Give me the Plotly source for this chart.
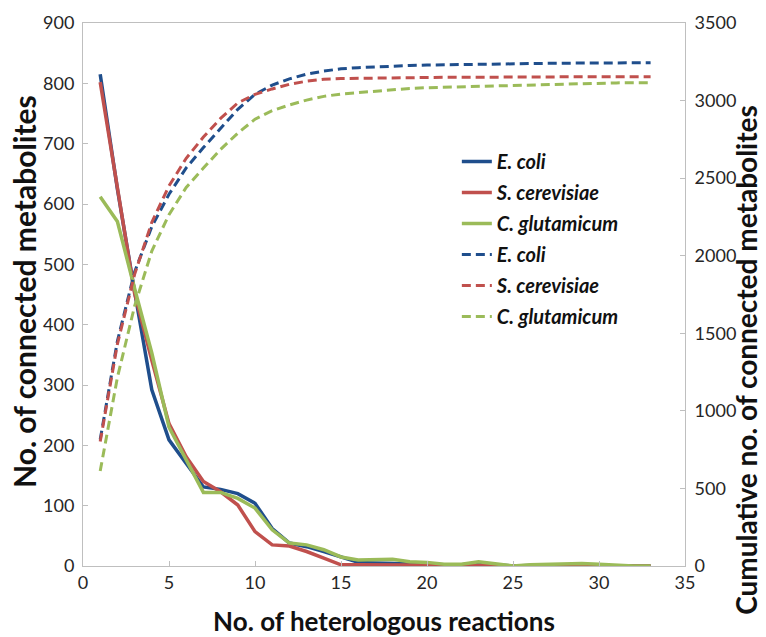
import plotly.graph_objects as go

x_vals = list(range(1, 34))

ecoli = [815, 625, 455, 292, 209, 170, 131, 127, 120, 104, 62, 38, 32, 24, 15, 6, 5, 4, 3, 3,
         2, 2, 4, 2, 0, 1, 1, 2, 1, 1, 0, 0, 0]
scer = [802, 630, 452, 341, 236, 181, 140, 123, 101, 57, 35, 33, 24, 13, 2, 2, 2, 2, 1, 1,
        1, 1, 2, 1, 0, 0, 1, 1, 1, 1, 0, 0, 0]
cglu = [612, 571, 460, 353, 230, 176, 122, 122, 112, 96, 60, 38, 35, 27, 15, 10, 10, 11, 7, 6,
        3, 3, 7, 3, 0, 2, 3, 4, 4, 3, 1, 0, 0]

ecoli_cum = [815, 1450, 1895, 2187, 2396, 2566, 2697, 2824, 2944, 3040, 3100, 3140, 3170, 3190,
             3205, 3212, 3218, 3222, 3226, 3229, 3231, 3233, 3236, 3238, 3238, 3239, 3240, 3241,
             3242, 3243, 3243, 3244, 3244]
scer_cum = [802, 1430, 1880, 2215, 2450, 2628, 2765, 2885, 2985, 3040, 3075, 3105, 3125, 3138,
            3142, 3144, 3146, 3147, 3148, 3149, 3150, 3150, 3151, 3152, 3152, 3152, 3153, 3153,
            3154, 3154, 3154, 3154, 3154]
cglu_cum = [612, 1215, 1675, 2030, 2265, 2440, 2565, 2685, 2790, 2880, 2935, 2972, 3003, 3027,
            3042, 3052, 3062, 3071, 3078, 3083, 3086, 3089, 3095, 3098, 3098, 3100, 3103, 3106,
            3110, 3113, 3114, 3115, 3115]

names = ["E. coli", "S. cerevisiae", "C. glutamicum"]
colors = ["#1F4E8C", "#C0504D", "#9BBB59"]

fig = go.Figure()
solid = [ecoli, scer, cglu]
cum = [ecoli_cum, scer_cum, cglu_cum]
for i in range(3):
    fig.add_trace(go.Scatter(x=x_vals, y=solid[i], mode="lines", name="<b><i>%s</i></b>" % names[i],
                             line=dict(color=colors[i], width=3.5), legendgroup="s%d" % i,
                             legendrank=i + 1))
for i in range(3):
    fig.add_trace(go.Scatter(x=x_vals, y=cum[i], mode="lines", name="<b><i>%s</i></b>" % names[i],
                             line=dict(color=colors[i], width=3, dash="9px,5px"), yaxis="y2",
                             legendgroup="c%d" % i, legendrank=i + 4))

axis_line = "#BFBFBF"
fam = "Lato, Open Sans, sans-serif"
tick_font = dict(family=fam, size=18, color="#262626")

fig.update_layout(
    width=758, height=629,
    margin=dict(l=75, r=81, t=15, b=71),
    paper_bgcolor="white", plot_bgcolor="white",
    showlegend=True,
    legend=dict(x=0.621, y=0.781, xanchor="left", yanchor="top",
                font=dict(family=fam, size=20, color="#111111"),
                tracegroupgap=2, bgcolor="rgba(0,0,0,0)", itemwidth=30),
    xaxis=dict(range=[0, 35], dtick=5, showgrid=False, zeroline=False, automargin=False,
               showline=True, linecolor=axis_line, linewidth=1, mirror=True,
               ticks="inside", ticklen=5, tickcolor=axis_line, tickfont=tick_font,
               title=dict(text="<b>No. of heterologous reactions</b>",
                          font=dict(family=fam, size=26, color="#111111"), standoff=22)),
    yaxis=dict(range=[0, 900], dtick=100, showgrid=False, zeroline=False, automargin=False,
               showline=True, linecolor=axis_line, linewidth=1, ticklabelstandoff=4,
               ticks="inside", ticklen=5, tickcolor=axis_line, tickfont=tick_font),
    yaxis2=dict(range=[0, 3500], dtick=500, overlaying="y", side="right", showgrid=False,
                zeroline=False, showline=True, linecolor=axis_line, linewidth=1, automargin=False,
                ticks="inside", ticklen=5, tickcolor=axis_line, tickfont=tick_font,
                ticklabelstandoff=5),
    annotations=[
        dict(text="<b>No. of connected metabolites</b>", xref="paper", yref="paper",
             x=-0.098, y=0.5046, xanchor="center", yanchor="middle", textangle=-90,
             showarrow=False, font=dict(family=fam, size=30, color="#111111")),
        dict(text="<b>Cumulative no. of connected metabolites</b>", xref="paper",
             yref="paper", x=1.1, y=0.38, xanchor="center", yanchor="middle",
             textangle=-90, showarrow=False,
             font=dict(family=fam, size=28, color="#111111"))],
)

fig.write_html("out.html")
